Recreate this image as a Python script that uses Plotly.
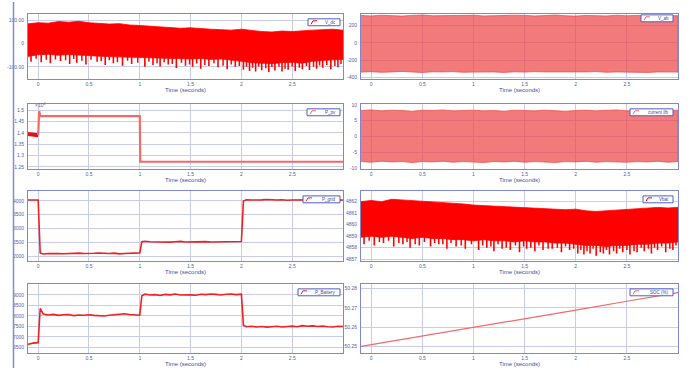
import plotly.graph_objects as go

W, H = 693, 370

# ---------------- data ----------------
T_UP = [round(-0.1 + 0.1 * i, 2) for i in range(32)]      # sample grid for envelopes

# V_dc band (upper edge / lower edge) + downward spikes
vdc_up = [85, 90, 88, 95, 92, 96, 90, 88, 84, 86, 80, 78, 75, 72, 70, 66, 68, 64, 62, 60,
          58, 62, 56, 52, 50, 54, 52, 56, 58, 60, 62, 58]
vdc_lo = [-55, -48, -46, -50, -47, -50, -52, -54, -56, -58, -60, -62, -60, -64, -62, -65,
          -66, -64, -68, -66, -70, -76, -82, -84, -86, -82, -80, -84, -76, -72, -70, -68]
spk_t = [-0.07, 0.03, 0.12, 0.22, 0.31, 0.38, 0.47, 0.58, 0.66, 0.74, 0.83, 0.92, 1.05, 1.13,
         1.2, 1.28, 1.36, 1.45, 1.52, 1.6, 1.68, 1.77, 1.86, 1.94, 2.02, 2.08, 2.14, 2.2, 2.27,
         2.33, 2.4, 2.46, 2.53, 2.6, 2.67, 2.74, 2.8, 2.88, 2.95]
vdc_spk = [-78, -80, -85, -75, -88, -82, -90, -78, -92, -85, -95, -88, -100, -92, -98, -90,
           -105, -95, -100, -108, -96, -102, -110, -100, -112, -118, -120, -115, -122, -116,
           -120, -112, -118, -110, -114, -108, -104, -110, -102]
spk2_t = [-0.02, 0.08, 0.17, 0.27, 0.35, 0.43, 0.52, 0.62, 0.7, 0.78, 0.88, 0.98, 1.09, 1.17,
          1.24, 1.32, 1.41, 1.49, 1.56, 1.64, 1.73, 1.82, 1.9, 1.98, 2.05, 2.11, 2.17, 2.24,
          2.3, 2.37, 2.43, 2.5, 2.57, 2.64, 2.71, 2.77, 2.84, 2.92, 2.98]
vdc_spk2 = [-65, -70, -68, -72, -66, -74, -70, -76, -72, -80, -74, -82, -78, -85, -80, -88,
            -82, -90, -86, -92, -84, -95, -90, -96, -100, -104, -98, -106, -102, -100, -108,
            -98, -104, -96, -100, -94, -92, -96, -88]

# V_ab band
vab_up = [318, 312, 320, 315, 310, 318, 322, 314, 316, 310, 318, 320, 312, 316, 314, 320,
          318, 312, 316, 322, 314, 310, 318, 316, 312, 320, 314, 318, 316, 312, 318, 315]
vab_lo = [-340, -335, -342, -338, -332, -340, -345, -336, -338, -334, -342, -340, -336, -338,
          -344, -336, -340, -334, -338, -342, -336, -340, -338, -334, -342, -338, -336, -340,
          -344, -338, -336, -340]

# P_pv (step signal)
ppv_t_pre = [-0.1, -0.05, 0.0]
ppv_pre = [13950, 13930, 13900]
ppv_t = [0.0, 0.01, 0.02, 0.5, 1.0, 1.005, 1.5, 2.0, 2.5, 3.0]
ppv = [13900, 14960, 14740, 14740, 14740, 12730, 12730, 12730, 12730, 12730]

# current band
cur_up = [8.2, 8.4, 8.1, 8.3, 8.2, 8.0, 8.3, 8.2, 8.4, 8.1, 8.2, 8.3, 8.1, 8.2, 8.0, 8.3,
          8.2, 8.1, 8.3, 8.2, 8.0, 8.2, 8.3, 8.1, 8.2, 8.4, 8.1, 8.2, 8.3, 8.1, 8.2, 8.3]
cur_lo = [-7.9, -8.1, -7.8, -8.0, -7.9, -8.2, -7.9, -8.0, -7.8, -8.1, -7.9, -8.0, -8.2, -7.9,
          -8.0, -7.8, -8.1, -7.9, -8.0, -8.2, -7.9, -8.0, -7.8, -8.1, -7.9, -8.0, -8.1, -7.9,
          -8.0, -7.8, -8.1, -7.9]

# step-signal time grid (0.05 s samples plus transition points)
T_STEP = sorted(set([round(-0.1 + 0.05 * i, 2) for i in range(63)] + [0.02, 1.02, 2.02]))

p_grid = [4030, 4035, 4030, 2120,
          2080, 2095, 2110, 2100, 2090, 2105, 2095, 2110, 2100, 2090, 2105, 2115, 2095, 2100,
          2110, 2085, 2095, 2110, 2100, 2120,
          2520,
          2540, 2525, 2515, 2530, 2520, 2510, 2525, 2535, 2515, 2520, 2530, 2510, 2525, 2515,
          2520, 2530, 2510, 2525, 2520, 2530,
          3990,
          4040, 4030, 4020, 4035, 4045, 4025, 4030, 4040, 4020, 4030, 4035, 4015, 4025, 4030,
          4040, 4020, 4030, 4035, 4025, 4030]

p_batt = [6640, 6700, 6720, 8350,
          8080, 8040, 8070, 8020, 8050, 8060, 8010, 8040, 8030, 8050, 8020, 8000, 7990, 8030,
          8050, 8070, 8100, 8060, 8040, 8030,
          8950,
          9030, 8990, 9010, 8970, 9020, 9000, 9040, 8990, 9010, 9000, 8980, 9030, 9010, 9040,
          9020, 8990, 9030, 9040, 9010, 9030,
          7550,
          7480, 7500, 7470, 7490, 7460, 7480, 7500, 7470, 7490, 7510, 7480, 7530, 7500, 7520,
          7490, 7510, 7480, 7470, 7500, 7490]

# Vbat band + spikes
vbat_up = [4862.0, 4862.1, 4862.0, 4862.2, 4862.15, 4862.1, 4862.0, 4861.95, 4861.9, 4861.85,
           4861.8, 4861.7, 4861.65, 4861.6, 4861.55, 4861.5, 4861.5, 4861.45, 4861.4, 4861.3,
           4861.3, 4861.35, 4861.2, 4861.15, 4861.2, 4861.3, 4861.35, 4861.4, 4861.45, 4861.5,
           4861.45, 4861.5]
vbat_lo = [4858.9, 4859.0, 4858.9, 4859.0, 4858.9, 4858.8, 4858.9, 4858.8, 4858.8, 4858.7,
           4858.7, 4858.6, 4858.7, 4858.6, 4858.6, 4858.5, 4858.6, 4858.5, 4858.5, 4858.4,
           4858.4, 4858.3, 4858.2, 4858.2, 4858.1, 4858.2, 4858.2, 4858.3, 4858.3, 4858.4,
           4858.4, 4858.5]
vbat_spk = [4858.3, 4858.2, 4858.4, 4858.1, 4858.3, 4858.0, 4858.2, 4858.1, 4858.3, 4857.9,
            4858.1, 4857.9, 4857.8, 4858.0, 4857.7, 4857.9, 4857.8, 4857.6, 4857.9, 4857.7,
            4857.8, 4857.9, 4857.6, 4857.8, 4857.5, 4857.4, 4857.5, 4857.3, 4857.5, 4857.4,
            4857.5, 4857.6, 4857.4, 4857.6, 4857.7, 4857.5, 4857.8, 4857.6, 4857.8]
vbat_spk2 = [4858.6, 4858.5, 4858.6, 4858.4, 4858.5, 4858.3, 4858.5, 4858.4, 4858.3, 4858.4,
             4858.2, 4858.3, 4858.2, 4858.1, 4858.3, 4858.0, 4858.2, 4858.1, 4858.0, 4858.2,
             4857.9, 4858.0, 4858.1, 4857.9, 4857.8, 4857.7, 4857.9, 4857.6, 4857.8, 4857.7,
             4857.9, 4857.8, 4857.7, 4858.0, 4857.9, 4858.0, 4858.1, 4857.9, 4858.2]

# SOC
soc_t = [-0.1, 0.5, 1.0, 1.5, 2.0, 2.5, 3.0]
soc = [50.2500, 50.2553, 50.2598, 50.2643, 50.2689, 50.2735, 50.2780]

X_TICKS = [0, 0.5, 1, 1.5, 2, 2.5]
X_TICK_TEXT = ["0", "0.5", "1", "1.5", "2", "2.5"]

# ---------------- layout ----------------
COL_X = {0: (28, 343), 1: (361, 678)}
ROW_Y = {0: (12, 78), 1: (103, 169), 2: (191, 262), 3: (285, 355)}

GRID = "#c9cced"
BORDER = "#7f88cf"
TICKC = "#5560ad"
FONT = "Liberation Sans"

fig = go.Figure()
layout = dict(width=W, height=H, margin=dict(l=0, r=0, t=0, b=0), autosize=False,
              paper_bgcolor="white", plot_bgcolor="white", showlegend=False,
              font=dict(family=FONT, size=5, color=TICKC))
annotations = []
shapes = [dict(type="line", xref="paper", yref="paper", x0=13.5 / W, x1=13.5 / W,
               y0=0, y1=1, line=dict(color="#8090c8", width=1.5))]

panels = [
    # (row, col, legend name, legend width px, yrange, tickvals, ticktext)
    (0, 0, "V_dc", 32, [-153, 128], [100, 0, -100], ["100.00", "0", "-100.00"]),
    (0, 1, "V_ab", 32, [-422, 336], [200, 0, -200, -400], ["200", "0", "-200", "-400"]),
    (1, 0, "P_pv", 33, [12404, 15274], [15000, 14500, 14000, 13500, 13000, 12500],
     ["1.5", "1.45", "1.4", "1.35", "1.3", "1.25"]),
    (1, 1, "current ifb", 43, [-10.3, 10.3], [10, 5, 0, -5, -10], ["10", "5", "0", "-5", "-10"]),
    (2, 0, "P_grid", 37, [1821, 4357], [4000, 3500, 3000, 2500, 2000],
     ["4000", "3500", "3000", "2500", "2000"]),
    (2, 1, "Vbat", 30, [4856.83, 4862.93], [4862, 4861, 4860, 4859, 4858, 4857],
     ["4862", "4861", "4860", "4859", "4858", "4857"]),
    (3, 0, "P_Battery", 42, [6220, 9520], [9000, 8500, 8000, 7500, 7000, 6500],
     ["9000", "8500", "8000", "7500", "7000", "6500"]),
    (3, 1, "SOC (%)", 43, [50.2465, 50.2825], [50.28, 50.27, 50.26, 50.25],
     ["50.28", "50.27", "50.26", "50.25"]),
]

LEG_COLORS = ["#ff0000", "#f06a6a", "#f06a6a", "#f06a6a", "#f02020", "#ff0000", "#f02020", "#f06a6a"]

for i, (r, c, name, lw, yr, tv, tt) in enumerate(panels):
    k = i + 1
    sfx = "" if k == 1 else str(k)
    x0, x1 = COL_X[c]
    y0, y1 = ROW_Y[r]
    layout["xaxis" + sfx] = dict(
        domain=[x0 / W, x1 / W], anchor="y" + sfx, range=[-0.1, 3.0],
        tickvals=X_TICKS, ticktext=X_TICK_TEXT, showgrid=True, gridcolor=GRID, gridwidth=1,
        zeroline=False, showline=True, linecolor=BORDER, linewidth=1, mirror=True,
        ticks="", tickfont=dict(size=5, color=TICKC, family=FONT), ticklabelstandoff=0)
    layout["yaxis" + sfx] = dict(
        domain=[1 - y1 / H, 1 - y0 / H], anchor="x" + sfx, range=yr,
        tickvals=tv, ticktext=tt, showgrid=True, gridcolor=GRID, gridwidth=1,
        zeroline=False, showline=True, linecolor=BORDER, linewidth=1, mirror=True,
        ticks="", tickfont=dict(size=5, color=TICKC, family=FONT), ticklabelstandoff=2)
    # legend box (drawn as shapes + text)
    xr = x1 - (3 if c == 0 else 5)
    yt = y0 + 5 if not (r == 0 and c == 1) else y0 + 1
    shapes.append(dict(type="rect", xref="paper", yref="paper",
                       x0=(xr - lw) / W, x1=xr / W, y0=1 - (yt + 7) / H, y1=1 - yt / H,
                       fillcolor="white", line=dict(color="#4f5fc4", width=1), layer="above"))
    shapes.append(dict(type="path", xref="paper", yref="paper",
                       path="M %f %f L %f %f L %f %f" % (
                           (xr - lw + 3) / W, 1 - (yt + 5.5) / H,
                           (xr - lw + 5) / W, 1 - (yt + 2) / H,
                           (xr - lw + 9) / W, 1 - (yt + 2) / H),
                       line=dict(color=LEG_COLORS[i], width=1), layer="above"))
    annotations.append(dict(text=name, x=(xr - 2) / W, y=1 - (yt + 3.7) / H,
                            xref="paper", yref="paper", showarrow=False,
                            xanchor="right", yanchor="middle",
                            font=dict(size=4.5, color="#3a4aa0", family=FONT)))
    annotations.append(dict(text="Time (seconds)", x=(x0 + x1) / 2 / W, y=1 - (y1 + 10.5) / H,
                            xref="paper", yref="paper", showarrow=False,
                            xanchor="center", yanchor="middle",
                            font=dict(size=6, color="#3f4fa5", family=FONT)))


def band(k, up, lo, fillc, linec):
    sfx = "" if k == 1 else str(k)
    fig.add_trace(go.Scatter(x=T_UP + T_UP[::-1], y=list(up) + list(lo)[::-1], mode="lines",
                             fill="toself", fillcolor=fillc, line=dict(color=linec, width=0.8),
                             xaxis="x" + sfx, yaxis="y" + sfx, hoverinfo="skip"))


def spikes(k, ts, base, vals, color, width):
    sfx = "" if k == 1 else str(k)
    xs, ys = [], []
    for t, v in zip(ts, vals):
        xs += [t, t, None]
        ys += [base, v, None]
    fig.add_trace(go.Scatter(x=xs, y=ys, mode="lines", line=dict(color=color, width=width),
                             xaxis="x" + sfx, yaxis="y" + sfx, hoverinfo="skip"))


RED = "#ff0000"
PINK_FILL = "rgba(238,70,70,0.72)"
PINK_LINE = "rgba(235,70,70,0.9)"
LIGHT = "#f06a6a"

# 1 V_dc
band(1, vdc_up, vdc_lo, RED, RED)
spikes(1, spk_t, 0, vdc_spk, RED, 1.6)
spikes(1, spk2_t, 0, vdc_spk2, RED, 1.5)
# 2 V_ab
band(2, vab_up, vab_lo, PINK_FILL, PINK_LINE)
# 3 P_pv
fig.add_trace(go.Scatter(x=ppv_t_pre, y=ppv_pre, mode="lines",
                         line=dict(color="#e81010", width=4), xaxis="x3", yaxis="y3"))
fig.add_trace(go.Scatter(x=ppv_t, y=ppv, mode="lines", line=dict(color=LIGHT, width=2.2),
                         xaxis="x3", yaxis="y3"))
# 4 current
band(4, cur_up, cur_lo, PINK_FILL, PINK_LINE)
# 5 P_grid
fig.add_trace(go.Scatter(x=T_STEP, y=p_grid, mode="lines", line=dict(color="#f02020", width=1.6),
                         xaxis="x5", yaxis="y5"))
# 6 Vbat
band(6, vbat_up, vbat_lo, RED, RED)
spikes(6, spk_t, 4860, vbat_spk, RED, 1.6)
spikes(6, spk2_t, 4860, vbat_spk2, RED, 1.5)
# 7 P_Battery
fig.add_trace(go.Scatter(x=T_STEP, y=p_batt, mode="lines", line=dict(color="#f02020", width=1.6),
                         xaxis="x7", yaxis="y7"))
# 8 SOC
fig.add_trace(go.Scatter(x=soc_t, y=soc, mode="lines", line=dict(color=LIGHT, width=1.2),
                         xaxis="x8", yaxis="y8"))

# exponent label for P_pv axis
annotations.append(dict(text="×10<sup>4</sup>", x=33 / W, y=1 - 99 / H, xref="paper",
                        yref="paper", showarrow=False, font=dict(size=5, color=TICKC, family=FONT)))

layout["annotations"] = annotations
layout["shapes"] = shapes
fig.update_layout(**layout)
fig.write_html("out.html", config={"displayModeBar": False},
               post_script="document.body.style.margin='0';document.body.style.overflow='hidden';")
